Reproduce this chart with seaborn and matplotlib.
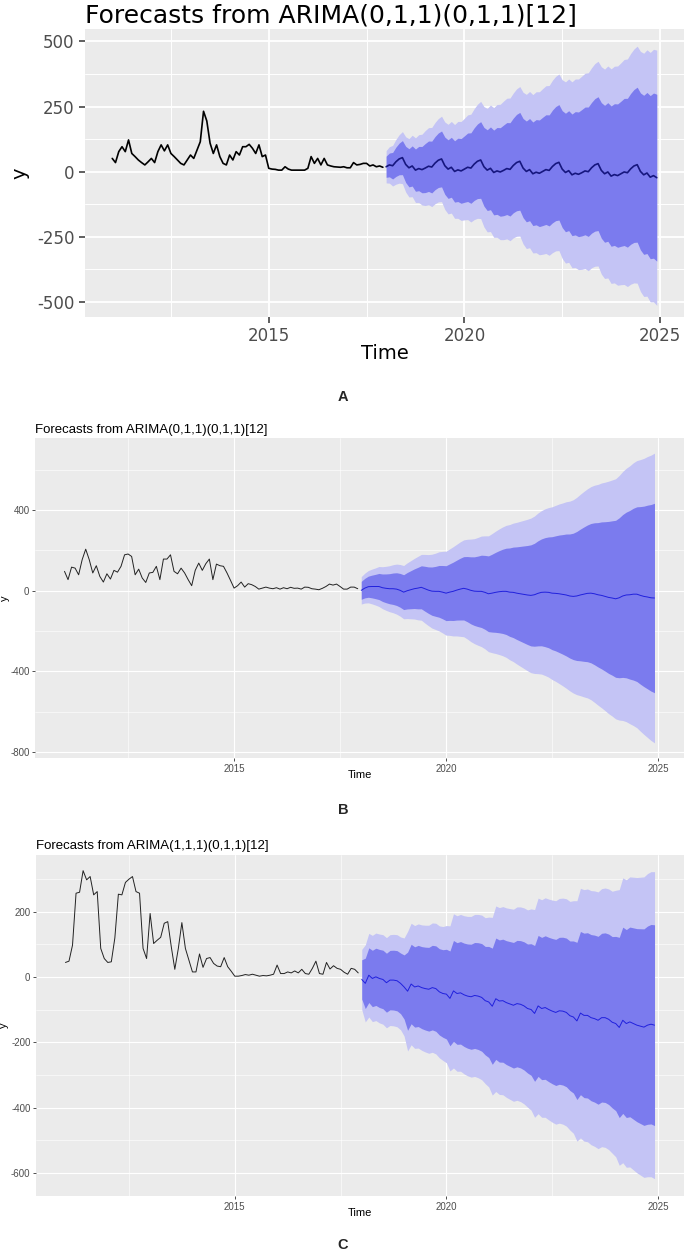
"""Three ARIMA forecast panels (A, B, C) stacked in one tall figure, ggplot look."""
import matplotlib

matplotlib.use("Agg")
import matplotlib.pyplot as plt  # noqa: E402
import numpy as np  # noqa: E402
import seaborn as sns  # noqa: E402

sns.set_theme(style="darkgrid", rc={"axes.facecolor": "#EBEBEB", "grid.color": "white"})
plt.rcParams["font.family"] = ["Liberation Sans", "DejaVu Sans"]
plt.rcParams["axes.unicode_minus"] = False

W, H = 685, 1254

# monthly time axis: history Jan 2011 - Dec 2017, forecast Jan 2018 - Dec 2024
hist_time = 2011 + np.arange(84) / 12
fc_time = 2018 + np.arange(84) / 12

TITLE_A = "Forecasts from ARIMA(0,1,1)(0,1,1)[12]"
TITLE_B = "Forecasts from ARIMA(0,1,1)(0,1,1)[12]"
TITLE_C = "Forecasts from ARIMA(1,1,1)(0,1,1)[12]"

# ---- panel A ----
a_hist = [51, 35, 77, 96, 77, 122, 70, 58, 45, 35, 26, 38,
          51, 35, 77, 103, 80, 103, 70, 58, 45, 32, 26, 45,
          64, 51, 83, 115, 232, 195, 110, 70, 103, 58, 32, 26,
          64, 45, 77, 64, 96, 96, 105, 90, 70, 103, 58, 64,
          13, 10, 9, 6, 6, 19, 10, 6, 6, 6, 6, 6,
          13, 58, 32, 51, 26, 51, 26, 22, 19, 18, 17, 19,
          15, 15, 35, 26, 28, 32, 32, 22, 26, 19, 22, 17]
a_mean = [19, 26, 23, 38, 49, 54, 28, 15, 22, 6, 12, 8,
          14, 21, 18, 33, 44, 49, 23, 10, 17, 1, 7, 3,
          10, 17, 14, 29, 40, 45, 19, 6, 13, -3, 3, -1,
          5, 12, 9, 24, 35, 40, 14, 1, 8, -8, -2, -6,
          1, 8, 5, 20, 31, 36, 10, -3, 4, -12, -6, -10,
          -4, 3, 0, 15, 26, 31, 5, -8, -1, -17, -11, -15,
          -8, -1, -4, 11, 22, 27, 1, -12, -5, -21, -15, -23]
# half width of the 95% interval
a_half95 = [62, 70, 78, 86, 93, 100, 106, 112, 118, 124, 130, 136,
            144, 148, 152, 156, 160, 164, 168, 172, 176, 180, 186, 190,
            195, 201, 207, 213, 219, 225, 231, 237, 243, 249, 255, 260,
            266, 270, 274, 278, 283, 287, 291, 296, 300, 304, 309, 313,
            318, 322, 326, 331, 335, 339, 343, 348, 352, 357, 362, 366,
            371, 375, 380, 384, 389, 393, 398, 402, 407, 412, 416, 421,
            426, 432, 437, 443, 449, 455, 461, 467, 473, 479, 485, 490]

# ---- panel B ----
b_hist = [96, 55, 117, 112, 79, 154, 206, 154, 88, 124, 71, 43,
          84, 58, 101, 92, 121, 178, 182, 170, 79, 107, 63, 41,
          88, 91, 121, 55, 157, 157, 178, 96, 84, 112, 88, 55,
          25, 101, 137, 101, 134, 157, 55, 132, 124, 121, 88, 51,
          13, 25, 43, 18, 35, 30, 21, 8, 13, 18, 13, 10,
          15, 8, 15, 10, 17, 12, 13, 8, 18, 17, 10, 8,
          5, 12, 21, 33, 28, 33, 21, 8, 8, 18, 18, 10]
b_mean = [2, 13, 20, 21, 21, 21, 15, 12, 10, 10, 8, 2,
          -7, 0, 5, 10, 13, 17, 10, 3, -2, -3, -3, -7,
          -12, -7, -3, 3, 8, 12, 8, 2, -2, -3, -3, -8,
          -15, -12, -8, -5, -3, -3, -7, -8, -12, -15, -18, -21,
          -23, -20, -13, -8, -7, -8, -12, -13, -15, -18, -21, -26,
          -28, -26, -21, -17, -13, -12, -15, -20, -23, -28, -33, -36,
          -40, -35, -26, -21, -20, -17, -17, -23, -28, -31, -35, -36]
b_half95 = [68, 74, 80, 86, 92, 99, 104, 109, 114, 119, 124, 128,
            132, 138, 144, 150, 157, 163, 170, 176, 183, 189, 196, 202,
            208, 214, 221, 227, 234, 240, 247, 254, 260, 267, 274, 280,
            287, 295, 303, 311, 319, 327, 335, 343, 351, 359, 367, 375,
            383, 390, 398, 405, 413, 420, 428, 436, 445, 453, 462, 470,
            479, 489, 499, 509, 518, 528, 538, 547, 557, 566, 576, 585,
            595, 606, 617, 628, 639, 651, 662, 673, 684, 696, 707, 718]

# ---- panel C ----
c_hist = [45, 49, 98, 257, 260, 326, 298, 308, 252, 262, 88, 57,
          45, 47, 120, 254, 252, 290, 300, 308, 262, 257, 88, 57,
          195, 103, 113, 122, 165, 170, 93, 24, 88, 167, 88, 52,
          16, 16, 71, 30, 57, 60, 42, 34, 32, 60, 32, 18,
          3, 3, 5, 8, 6, 9, 6, 3, 5, 4, 6, 9,
          37, 11, 11, 16, 13, 19, 13, 24, 11, 9, 27, 49,
          11, 9, 45, 25, 35, 27, 24, 15, 9, 27, 24, 13]
c_mean = [-7, -19, 6, -4, 1, -4, -7, -17, -9, -9, -11, -19,
          -30, -43, -21, -30, -27, -32, -35, -37, -32, -35, -45, -50,
          -52, -65, -42, -50, -48, -54, -58, -60, -56, -58, -62, -72,
          -76, -89, -66, -73, -72, -78, -82, -86, -81, -83, -88, -96,
          -99, -111, -88, -96, -93, -99, -104, -108, -103, -104, -108, -118,
          -122, -134, -110, -117, -117, -124, -127, -132, -124, -124, -129, -138,
          -142, -154, -132, -142, -137, -142, -147, -150, -153, -147, -144, -147]
c_half95 = [92, 118, 128, 132, 134, 136, 137, 138, 139, 140, 141, 142,
            150, 183, 186, 188, 190, 192, 194, 196, 198, 200, 202, 205,
            210, 222, 236, 238, 240, 242, 244, 246, 248, 250, 252, 254,
            260, 272, 284, 286, 288, 290, 292, 294, 296, 298, 300, 302,
            308, 318, 330, 333, 336, 338, 340, 342, 344, 346, 348, 350,
            356, 368, 382, 385, 387, 389, 391, 393, 395, 397, 399, 401,
            408, 422, 436, 440, 444, 448, 452, 456, 460, 464, 467, 470]

Z80, Z95 = 1.2816, 1.96
LIGHT, DARK = "#C4C4F5", "#7B7BEE"
XLIM = (2010.304, 2025.613)


def add_axes(fig, left, top, right, bottom):
    return fig.add_axes([left / W, 1 - bottom / H, (right - left) / W, (bottom - top) / H])


def draw_panel(ax, hist, mean, half95, s):
    mean = np.asarray(mean, float)
    half95 = np.asarray(half95, float)
    half80 = half95 * Z80 / Z95
    ax.fill_between(fc_time, mean - half95, mean + half95, color=LIGHT, lw=0, zorder=2)
    ax.fill_between(fc_time, mean - half80, mean + half80, color=DARK, lw=0, zorder=2)
    sns.lineplot(x=hist_time, y=hist, ax=ax, color=s["hist_c"], lw=s["lw"], zorder=3)
    sns.lineplot(x=fc_time, y=mean, ax=ax, color=s["mean_c"], lw=s["lw"], zorder=3)

    ax.set_xlim(*XLIM)
    ax.set_ylim(*s["ylim"])
    ax.set_xticks([2015, 2020, 2025])
    ax.set_xticks([2012.5, 2017.5, 2022.5], minor=True)
    ax.set_yticks(s["yticks"])
    ax.set_yticks(s["yminor"], minor=True)
    ax.grid(which="major", color="white", lw=s["gmaj"])
    ax.grid(which="minor", color="white", lw=s["gmin"])
    ax.tick_params(which="major", bottom=True, left=True, length=s["tlen"], width=s["tw"],
                   color="#333333", labelcolor="#4D4D4D", labelsize=s["tick_fs"], pad=s["tpad"])
    ax.tick_params(which="minor", length=0)
    for lab in ax.get_xticklabels() + ax.get_yticklabels():
        lab.set_family(s["family"])
    for sp in ax.spines.values():
        sp.set_visible(False)

    ax.set_title(s["title"], loc="left", fontsize=s["title_fs"], pad=s["title_pad"],
                 family=s["family"], color="black")
    ax.set_xlabel("Time", fontsize=s["lab_fs"], family=s["family"], color="black", va="center")
    ax.set_ylabel("y", fontsize=s["lab_fs"], family=s["family"], color="black",
                  va="center", ha="center")
    ax.xaxis.set_label_coords(0.5, s["xlab_y"])
    ax.yaxis.set_label_coords(s["ylab_x"], 0.5)


fig = plt.figure(figsize=(W / 100, H / 100), dpi=100)
fig.patch.set_facecolor("white")

wide = ["DejaVu Sans"]
narrow = ["Liberation Sans", "DejaVu Sans"]

ax_a = add_axes(fig, 85, 29, 684, 317)
draw_panel(ax_a, a_hist, a_mean, a_half95, dict(
    hist_c="black", mean_c="#16167e", lw=1.2, ylim=(-558, 548),
    yticks=[-500, -250, 0, 250, 500], yminor=[-375, -125, 125, 375],
    gmaj=1.3, gmin=0.7, tlen=4.5, tw=1.1, tick_fs=12, tpad=3,
    family=wide, title=TITLE_A, title_fs=18, title_pad=5, lab_fs=14,
    xlab_y=(317 - 353) / 288, ylab_x=(20 - 85) / 599))

ax_b = add_axes(fig, 35, 438, 684, 758)
draw_panel(ax_b, b_hist, b_mean, b_half95, dict(
    hist_c="#222222", mean_c="#2020dd", lw=0.7, ylim=(-829, 757),
    yticks=[-800, -400, 0, 400], yminor=[-600, -200, 200, 600],
    gmaj=0.8, gmin=0.4, tlen=2.5, tw=0.6, tick_fs=7, tpad=1.5,
    family=narrow, title=TITLE_B, title_fs=9.5, title_pad=3.4, lab_fs=8,
    xlab_y=(758 - 775) / 320, ylab_x=(5 - 35) / 649))

ax_c = add_axes(fig, 36, 855, 684, 1196)
draw_panel(ax_c, c_hist, c_mean, c_half95, dict(
    hist_c="#222222", mean_c="#2020dd", lw=0.7, ylim=(-670, 374),
    yticks=[-600, -400, -200, 0, 200], yminor=[-500, -300, -100, 100, 300],
    gmaj=0.8, gmin=0.4, tlen=2.5, tw=0.6, tick_fs=7, tpad=1.5,
    family=narrow, title=TITLE_C, title_fs=9.5, title_pad=4, lab_fs=8,
    xlab_y=(1196 - 1213) / 341, ylab_x=(4 - 36) / 648))

for letter, ypix in [("A", 397), ("B", 810), ("C", 1245)]:
    fig.text(343 / W, 1 - ypix / H, letter, fontsize=10.5, fontweight="bold",
             family=["Liberation Sans", "DejaVu Sans"], ha="center", va="center")

fig.savefig("out.png", dpi=100)
